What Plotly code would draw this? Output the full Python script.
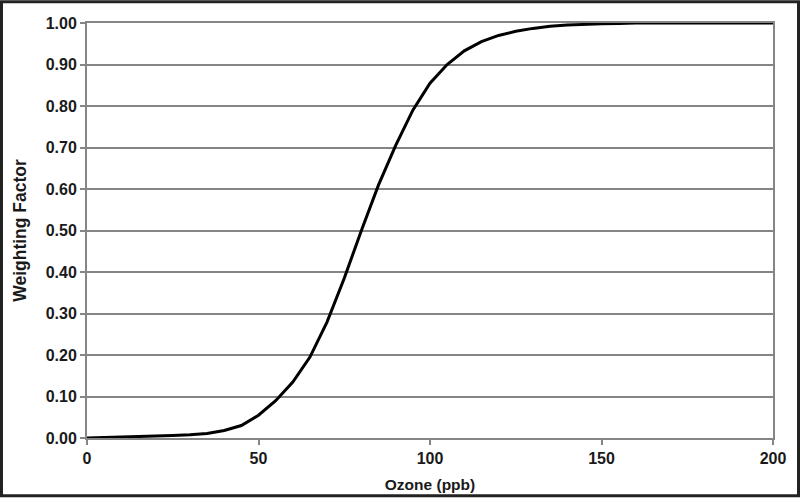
import plotly.graph_objects as go

# ozone concentration (ppb) and weighting factor
ozone_ppb = [0, 5, 10, 15, 20, 25, 30, 35, 40, 45, 50, 55, 60, 65, 70, 75, 80,
             85, 90, 95, 100, 105, 110, 115, 120, 125, 130, 135, 140, 145, 150,
             155, 160, 170, 180, 190, 200]
weighting = [0.000, 0.001, 0.002, 0.003, 0.004, 0.006, 0.008, 0.011, 0.018, 0.030,
             0.055, 0.090, 0.135, 0.195, 0.280, 0.385, 0.500, 0.610, 0.705, 0.790,
             0.855, 0.900, 0.933, 0.955, 0.970, 0.980, 0.987, 0.992, 0.995, 0.997,
             0.998, 0.999, 1.000, 1.000, 1.000, 1.000, 1.000]

x_ticks = [0, 50, 100, 150, 200]
y_ticks = [0.0, 0.1, 0.2, 0.3, 0.4, 0.5, 0.6, 0.7, 0.8, 0.9, 1.0]

W, H = 800, 503
ML, MR, MT, MB = 87, 27, 23, 60
pw, ph = W - ML - MR, H - MT - MB

fig = go.Figure()

fig.add_trace(go.Scatter(
    x=ozone_ppb,
    y=weighting,
    mode='lines',
    line=dict(color='black', width=3),
    showlegend=False,
    hoverinfo='x+y'
))

font = dict(family='Liberation Sans, Arial, sans-serif', color='#1a1a1a')
tick_font = dict(size=16, family='Liberation Sans, Arial', color='#1a1a1a', weight='bold')

fig.update_layout(
    width=W, height=H,
    margin=dict(l=ML, r=MR, t=MT, b=MB),
    paper_bgcolor='white',
    plot_bgcolor='white',
    font=font,
    xaxis=dict(
        range=[0, 200],
        tickvals=x_ticks,
        showgrid=False,
        zeroline=False,
        showline=True, linecolor='#858585', linewidth=2, mirror=True,
        ticks='outside', ticklen=5, tickcolor='#858585', tickwidth=1.5,
        tickfont=tick_font,
        title=dict(text='<b>Ozone (ppb)</b>', font=dict(size=15.5), standoff=13),
    ),
    yaxis=dict(
        range=[0, 1.0],
        tickvals=y_ticks,
        tickformat='.2f',
        showgrid=True, gridcolor='#858585', gridwidth=1.5,
        zeroline=False,
        showline=True, linecolor='#858585', linewidth=2, mirror=True,
        ticks='outside', ticklen=5, tickcolor='#858585', tickwidth=1.5,
        tickfont=tick_font,
        title=dict(text='<b>Weighting Factor</b>', font=dict(size=17.5), standoff=15),
    ),
)

# dark frame around the whole figure
fig.add_shape(
    type='rect', xref='paper', yref='paper',
    x0=(-ML + 1.5) / pw, x1=1 + (MR - 1.5) / pw,
    y0=(-MB + 1.5) / ph, y1=1 + (MT - 1.5) / ph,
    line=dict(color='#222222', width=3),
    fillcolor='rgba(0,0,0,0)',
    layer='above'
)

fig.write_html("out.html", config={'displayModeBar': False},
               post_script="document.body.style.margin='0';")
